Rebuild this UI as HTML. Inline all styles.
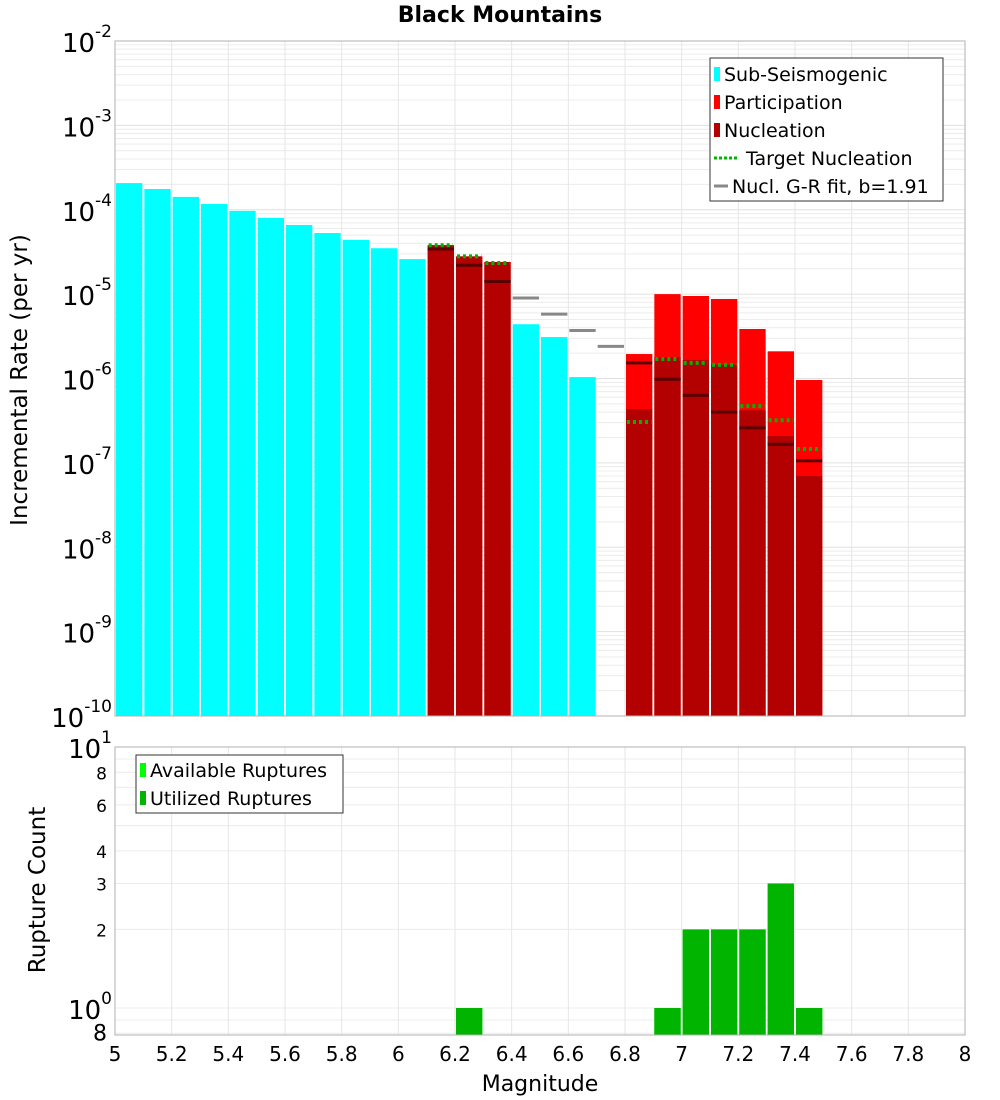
<!DOCTYPE html>
<html><head><meta charset="utf-8"><style>
body{margin:0;background:#fff;}
svg{display:block;font-family:"DejaVu Sans","Liberation Sans",sans-serif;}
</style></head><body>
<svg id="c" width="1000" height="1100" viewBox="0 0 1000 1100"></svg>
<script>
const bins=[5.0,5.1,5.2,5.3,5.4,5.5,5.6,5.7,5.8,5.9,6.0,6.1,6.2,6.3,6.4,6.5,6.6,6.7,6.8,6.9,7.0,7.1,7.2,7.3,7.4];
const subSeis=[2.07e-4,1.76e-4,1.42e-4,1.17e-4,9.7e-5,8.0e-5,6.6e-5,5.3e-5,4.4e-5,3.5e-5,2.6e-5,0,0,0,4.4e-6,3.1e-6,1.04e-6,0,0,0,0,0,0,0,0];
const partic=[0,0,0,0,0,0,0,0,0,0,0,3.8e-5,2.8e-5,2.4e-5,0,0,0,0,1.95e-6,1.0e-5,9.5e-6,8.75e-6,3.86e-6,2.1e-6,9.6e-7];
const nucl=[0,0,0,0,0,0,0,0,0,0,0,3.8e-5,2.8e-5,2.4e-5,0,0,0,0,4.35e-7,1.8e-6,1.66e-6,1.45e-6,4.2e-7,2.08e-7,7.0e-8];
const target=[0,0,0,0,0,0,0,0,0,0,0,3.8e-5,2.8e-5,2.34e-5,0,0,0,0,3.05e-7,1.7e-6,1.53e-6,1.45e-6,4.7e-7,3.2e-7,1.46e-7];
const grBins=[6.1,6.2,6.3,6.4,6.5,6.6,6.7,6.8,6.9,7.0,7.1,7.2,7.3,7.4];
const grFit=[3.43e-5,2.20e-5,1.41e-5,9.0e-6,5.8e-6,3.7e-6,2.4e-6,1.53e-6,9.8e-7,6.3e-7,4.0e-7,2.6e-7,1.66e-7,1.06e-7];
const cntBins=[6.2,6.9,7.0,7.1,7.2,7.3,7.4];
const available=[1,1,2,2,2,3,1];
const utilized=[1,1,2,2,2,3,1];
const xTicks=[5,5.2,5.4,5.6,5.8,6,6.2,6.4,6.6,6.8,7,7.2,7.4,7.6,7.8,8];
const yExps=[-2,-3,-4,-5,-6,-7,-8,-9,-10];

const NS='http://www.w3.org/2000/svg';
const svg=document.getElementById('c');
function el(t,a,txt){const e=document.createElementNS(NS,t);for(const k in a)e.setAttribute(k,a[k]);if(txt!==undefined)e.textContent=txt;svg.appendChild(e);return e;}
const X0=115,X1=965;
const x=m=>X0+(m-5)/3*(X1-X0);
const T0=41,T1=716;
const yT=v=>T0+(-2-Math.log10(v))*(T1-T0)/8;
const B0=747,B1=1035;
const yB=v=>1008-Math.log10(v)*261;

for(let e=-10;e<-2;e++)for(let k=1;k<10;k++){const yy=yT(k*Math.pow(10,e));const g=el('line',{x1:X0,x2:X1,y1:yy,y2:yy,stroke:k==1?'#e0e0e0':'#ececec','stroke-width':1});}
xTicks.forEach(t=>{const g=el('line',{x1:x(t),x2:x(t),y1:T0,y2:T1,stroke:'#e6e6e6'});});
[0.8,0.9,1,2,3,4,5,6,7,8,9,10].forEach(v=>{const yy=yB(v);const g=el('line',{x1:X0,x2:X1,y1:yy,y2:yy,stroke:'#ececec'});});
xTicks.forEach(t=>{const g=el('line',{x1:x(t),x2:x(t),y1:B0,y2:B1,stroke:'#e6e6e6'});});

function bar(m,v,col,name,ybase,yf){if(!v)return;const x1=x(m)+1,x2=x(m+0.1)-1;const yy=yf(v);const r=el('rect',{x:x1,y:yy,width:x2-x1,height:ybase-yy,fill:col});}
bins.forEach((m,i)=>bar(m,subSeis[i],'#00ffff','sub-seismogenic-bar',T1,yT));
bins.forEach((m,i)=>bar(m,partic[i],'#ff0000','participation-bar',T1,yT));
bins.forEach((m,i)=>bar(m,nucl[i],'#b30000','nucleation-bar',T1,yT));
grBins.forEach((m,i)=>{const inBar=partic[bins.findIndex(b=>Math.abs(b-m)<1e-6)]>0;const yy=yT(grFit[i]);const l=el('line',{x1:x(m)+1,x2:x(m+0.1)-1,y1:yy,y2:yy,stroke:inBar?'#5a0000':'#888','stroke-width':3});});
bins.forEach((m,i)=>{if(!target[i])return;const yy=yT(target[i]);const l=el('line',{x1:x(m)+2,x2:x(m+0.1)-2,y1:yy,y2:yy,stroke:'#00b400','stroke-width':4,'stroke-dasharray':'3,3'});});
cntBins.forEach((m,i)=>bar(m,available[i],'#00ff00','available-ruptures-bar',B1,yB));
cntBins.forEach((m,i)=>bar(m,utilized[i],'#00b400','utilized-ruptures-bar',B1,yB));

let f=el('rect',{x:X0,y:T0,width:X1-X0,height:T1-T0,fill:'none',stroke:'#b0b0b0'});
f=el('rect',{x:X0,y:B0,width:X1-X0,height:B1-B0,fill:'none',stroke:'#b0b0b0'});

yExps.forEach(e=>{const yy=yT(Math.pow(10,e));const t=el('text',{x:112,y:yy+11,'text-anchor':'end','font-size':26});
const a=document.createElementNS(NS,'tspan');a.textContent='10';t.appendChild(a);const b=document.createElementNS(NS,'tspan');b.setAttribute('dy','-15');b.setAttribute('font-size','17');b.textContent=String(e);t.appendChild(b);});
[[10,'10','1'],[1,'10','0']].forEach(([v,b,p])=>{const t=el('text',{x:112,y:yB(v)+11,'text-anchor':'end','font-size':26});const a=document.createElementNS(NS,'tspan');a.textContent=b;t.appendChild(a);const s=document.createElementNS(NS,'tspan');s.setAttribute('dy','-15');s.setAttribute('font-size','17');s.textContent=p;t.appendChild(s);});
[[8,'8',17],[6,'6',17],[4,'4',17],[3,'3',17],[2,'2',17],[0.8,'8',22]].forEach(([v,s,fs])=>{const t=el('text',{x:107,y:yB(v)+7,'text-anchor':'end','font-size':fs},s);});
xTicks.forEach(t=>{const s=el('text',{x:x(t),y:1061,'text-anchor':'middle','font-size':20},String(t));});

let t=el('text',{x:500,y:22,'text-anchor':'middle','font-size':22,'font-weight':'bold'},'Black Mountains');
t=el('text',{x:540,y:1091,'text-anchor':'middle','font-size':22},'Magnitude');
t=el('text',{x:0,y:0,'text-anchor':'middle','font-size':23,transform:'translate(27,380) rotate(-90)'},'Incremental Rate (per yr)');
t=el('text',{x:0,y:0,'text-anchor':'middle','font-size':23,transform:'translate(45,890) rotate(-90)'},'Rupture Count');

f=el('rect',{x:710,y:58,width:233,height:143,fill:'#fff',stroke:'#333'});
const leg=[['Sub-Seismogenic','#00ffff','sq'],['Participation','#ff0000','sq'],['Nucleation','#b30000','sq'],['Target Nucleation','#00b400','dot'],['Nucl. G-R fit, b=1.91','#888','line']];
leg.forEach((l,i)=>{const yy=74+i*28;let m;
if(l[2]=='sq'){m=el('rect',{x:714,y:yy-7,width:6,height:14,fill:l[1]});}
else if(l[2]=='dot'){m=el('line',{x1:714,x2:738,y1:yy,y2:yy,stroke:l[1],'stroke-width':3,'stroke-dasharray':'3,2'});}
else{m=el('line',{x1:714,x2:728,y1:yy,y2:yy,stroke:l[1],'stroke-width':3});}

const s=el('text',{x:l[2]=='sq'?724:(l[2]=='dot'?746:732),y:yy+7,'font-size':19},l[0]);});
f=el('rect',{x:136,y:755,width:207,height:58,fill:'#fff',stroke:'#333'});
[['Available Ruptures','#00ff00'],['Utilized Ruptures','#00b400']].forEach((l,i)=>{const yy=770+i*28;const m=el('rect',{x:140,y:yy-7,width:6,height:14,fill:l[1]});const s=el('text',{x:150,y:yy+7,'font-size':19},l[0]);});
</script>
</body></html>
